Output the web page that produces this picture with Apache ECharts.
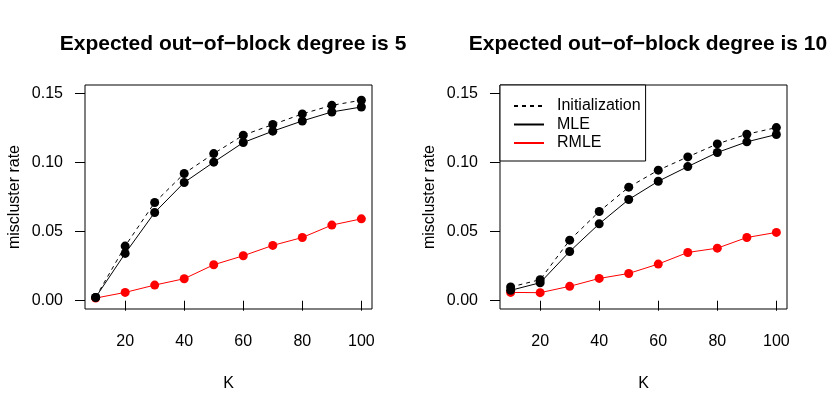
<!DOCTYPE html>
<html>
<head>
<meta charset="utf-8">
<script src="https://cdn.jsdelivr.net/npm/echarts@6/dist/echarts.min.js"></script>
<style>
  html, body { margin: 0; padding: 0; background: #fff; }
  #chart { width: 830px; height: 415px; }
</style>
</head>
<body>
<div id="chart"></div>
<script>
// K values on the x axis
var K = [10, 20, 30, 40, 50, 60, 70, 80, 90, 100];
var xTicks = [20, 40, 60, 80, 100];
var yTicks = [0, 0.05, 0.10, 0.15];

// left panel: expected out-of-block degree 5
var init5 = [0.0024, 0.0395, 0.0710, 0.0920, 0.1064, 0.1197, 0.1274, 0.1351, 0.1413, 0.1450];
var mle5  = [0.0024, 0.0342, 0.0638, 0.0855, 0.1002, 0.1144, 0.1226, 0.1300, 0.1365, 0.1401];
var rmle5 = [0.0019, 0.0060, 0.0113, 0.0159, 0.0260, 0.0325, 0.0400, 0.0457, 0.0547, 0.0592];

// right panel: expected out-of-block degree 10
var init10 = [0.0099, 0.0152, 0.0438, 0.0645, 0.0821, 0.0944, 0.1040, 0.1134, 0.1204, 0.1252];
var mle10  = [0.0075, 0.0130, 0.0356, 0.0556, 0.0732, 0.0864, 0.0970, 0.1072, 0.1149, 0.1202];
var rmle10 = [0.0060, 0.0058, 0.0104, 0.0161, 0.0197, 0.0265, 0.0349, 0.0380, 0.0457, 0.0494];

var titles = ['Expected out\u2212of\u2212block degree is 5', 'Expected out\u2212of\u2212block degree is 10'];

var FONT = '"Liberation Sans", Arial, sans-serif';

function pairs(vals) {
  return K.map(function (k, i) { return [k, vals[i]]; });
}

function xAxis(idx) {
  return {
    type: 'value', gridIndex: idx, min: 6.4, max: 103.6,
    name: 'K', nameLocation: 'middle', nameGap: 67,
    nameTextStyle: { color: '#000', fontSize: 16, fontFamily: FONT },
    axisLine: { show: false },
    splitLine: { show: false },
    axisTick: { show: true, inside: false, length: 10, customValues: xTicks, lineStyle: { color: '#000' } },
    axisLabel: { customValues: xTicks, margin: 25, color: '#000', fontSize: 16, fontFamily: FONT }
  };
}

function yAxis(idx) {
  return {
    type: 'value', gridIndex: idx, min: -0.006, max: 0.156,
    name: 'miscluster rate', nameLocation: 'middle', nameGap: 62,
    nameTextStyle: { color: '#000', fontSize: 16, fontFamily: FONT },
    axisLine: { show: false },
    splitLine: { show: false },
    axisTick: { show: true, inside: false, length: 10, customValues: yTicks, lineStyle: { color: '#000' } },
    axisLabel: {
      customValues: yTicks, margin: 22, color: '#000', fontSize: 16, fontFamily: FONT,
      formatter: function (v) { return v.toFixed(2); }
    }
  };
}

function line(name, vals, idx, color, dashed) {
  return {
    name: name, type: 'line', xAxisIndex: idx, yAxisIndex: idx,
    data: pairs(vals),
    symbol: 'circle', symbolSize: 9,
    itemStyle: { color: color },
    lineStyle: { color: color, width: 1, type: dashed ? [4, 4] : 'solid' },
    emphasis: { disabled: true }
  };
}

var chart = echarts.init(document.getElementById('chart'));
var option = {
  animation: false,
  backgroundColor: '#fff',
  title: [
    { text: titles[0], left: 228, top: 29, textAlign: 'center',
      textStyle: { fontSize: 21, fontWeight: 'bold', color: '#000', fontFamily: FONT } },
    { text: titles[1], left: 643, top: 29, textAlign: 'center',
      textStyle: { fontSize: 21, fontWeight: 'bold', color: '#000', fontFamily: FONT } }
  ],
  grid: [
    { left: 85, top: 85, width: 287, height: 224, show: true, borderColor: '#000', borderWidth: 1, backgroundColor: 'transparent' },
    { left: 500, top: 85, width: 287, height: 224, show: true, borderColor: '#000', borderWidth: 1, backgroundColor: 'transparent' }
  ],
  xAxis: [xAxis(0), xAxis(1)],
  yAxis: [yAxis(0), yAxis(1)],
  legend: {
    left: 500, top: 85, orient: 'vertical',
    data: ['Initialization', 'MLE', 'RMLE'],
    itemWidth: 30, itemHeight: 14, itemGap: 2.5,
    padding: [13, 5, 10, 13],
    borderColor: '#000', borderWidth: 1, borderRadius: 0,
    backgroundColor: '#fff',
    itemStyle: { opacity: 0 },
    selectedMode: false,
    textStyle: { color: '#000', fontSize: 16, fontFamily: FONT, padding: [0, 0, 0, 8] }
  },
  series: [
    line('RMLE', rmle5, 0, '#ff0000', false),
    line('Initialization', init5, 0, '#000', true),
    line('MLE', mle5, 0, '#000', false),
    line('RMLE', rmle10, 1, '#ff0000', false),
    line('Initialization', init10, 1, '#000', true),
    line('MLE', mle10, 1, '#000', false)
  ]
};
chart.setOption(option);
</script>
</body>
</html>
